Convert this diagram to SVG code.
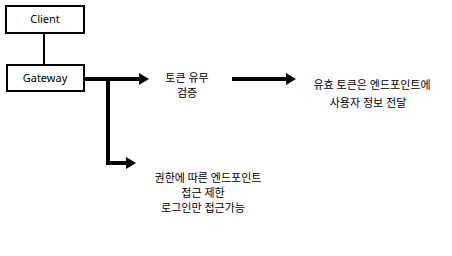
<svg xmlns="http://www.w3.org/2000/svg" width="452" height="256" viewBox="0 0 452 256">
<style>
.box{fill:#fff;stroke:#000;stroke-width:2}
.t{font-family:"Noto Sans","Noto Sans CJK KR",sans-serif;font-size:11px;fill:#000;text-anchor:middle}
.thick{fill:none;stroke:#000;stroke-width:4}
.thin{fill:none;stroke:#000;stroke-width:2}
</style>
<defs>
<marker id="ah" viewBox="0 0 10 12" refX="0" refY="6" markerWidth="10" markerHeight="12" markerUnits="userSpaceOnUse" orient="auto">
<path d="M0,0 L10,6 L0,12 Z" fill="#000"/>
</marker>
</defs>
<rect width="452" height="256" fill="#fff"/>
<g id="connectors">
<line class="thin" x1="44" y1="33" x2="44" y2="65"/>
<line class="thick" x1="85" y1="79" x2="139" y2="79" marker-end="url(#ah)"/>
<polyline class="thick" points="108,79 108,163 126,163" marker-end="url(#ah)"/>
<line class="thick" x1="232" y1="79" x2="286" y2="79" marker-end="url(#ah)"/>
</g>
<g id="client">
<rect class="box" x="6" y="6" width="78" height="27"/>
<text class="t" x="45" y="23">Client</text>
</g>
<g id="gateway">
<rect class="box" x="7" y="65" width="77" height="26"/>
<text class="t" x="45" y="82">Gateway</text>
</g>
<g id="token-check">
<text class="t" x="187" y="82">토큰 유무</text>
<text class="t" x="187" y="97">검증</text>
</g>
<g id="valid-token">
<text class="t" x="372" y="89">유효 토큰은 엔드포인트에</text>
<text class="t" x="368" y="107">사용자 정보 전달</text>
</g>
<g id="restrict">
<text class="t" x="208" y="182">권한에 따른 엔드포인트</text>
<text class="t" x="203" y="197">접근 제한</text>
<text class="t" x="203" y="212">로그인만 접근가능</text>
</g>
</svg>
